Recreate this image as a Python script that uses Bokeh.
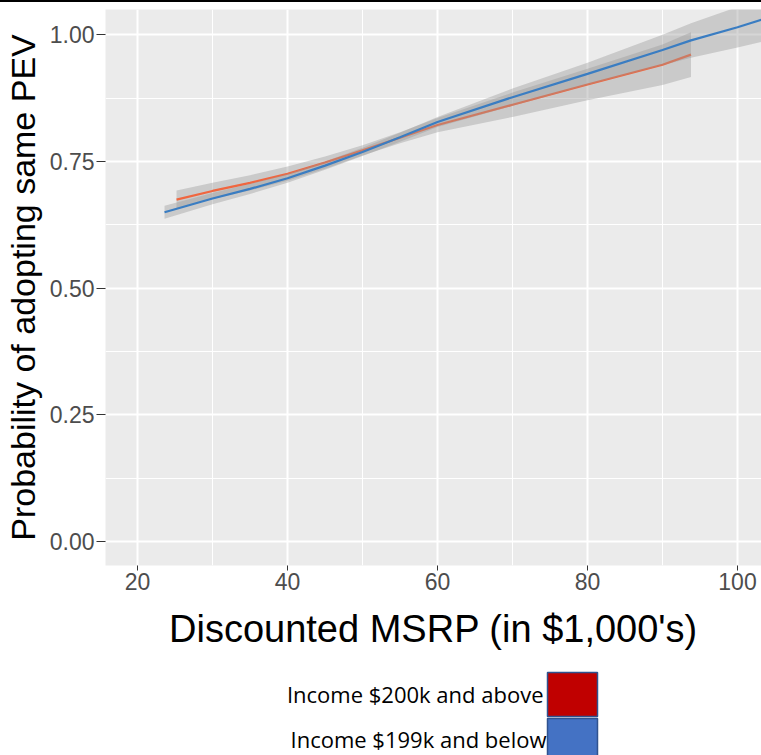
from bokeh.plotting import figure
from bokeh.layouts import column
from bokeh.models import Range1d, FixedTicker, Label, Div
from bokeh.embed import file_html
from bokeh.resources import INLINE

# ---------------- data ----------------
# Income $200k and above (red): fitted line and confidence band
hi_x = [25.2, 30, 35, 40, 45, 50, 55, 60, 70, 80, 90, 93.8]
hi_y = [0.675, 0.692, 0.708, 0.726, 0.748, 0.772, 0.797, 0.822, 0.862, 0.902, 0.941, 0.961]
hi_lo = [0.657, 0.676, 0.693, 0.712, 0.736, 0.762, 0.786, 0.808, 0.838, 0.871, 0.901, 0.917]
hi_up = [0.693, 0.708, 0.723, 0.740, 0.760, 0.782, 0.808, 0.836, 0.886, 0.933, 0.981, 1.005]

# Income $199k and below (blue): fitted line and confidence band
lo_x = [23.6, 30, 35, 40, 45, 50, 55, 60, 70, 80, 90, 93.8, 100, 103.2]
lo_y = [0.650, 0.677, 0.696, 0.717, 0.742, 0.769, 0.798, 0.828, 0.877, 0.923, 0.970, 0.989, 1.015, 1.030]
lo_lo = [0.637, 0.666, 0.686, 0.708, 0.734, 0.761, 0.789, 0.818, 0.860, 0.901, 0.940, 0.955, 0.975, 0.986]
lo_up = [0.663, 0.688, 0.706, 0.726, 0.750, 0.777, 0.807, 0.838, 0.894, 0.945, 1.000, 1.023, 1.055, 1.074]

x_ticks = [20, 40, 60, 80, 100]
x_minor = [30, 50, 70, 90]
y_ticks = [0.0, 0.25, 0.5, 0.75, 1.0]
y_minor = [0.125, 0.375, 0.625, 0.875]
y_tick_labels = ["0.00", "0.25", "0.50", "0.75", "1.00"]

legend_labels = ["Income $200k and above", "Income $199k and below"]
legend_colors = ["#C00000", "#4472C4"]

RED = "#F0663F"
BLUE = "#3A7DC2"
FONT = "Liberation Sans"

# thin black rule at the very top of the slide image
top_rule = Div(text="", width=761, height=2,
               styles={"background-color": "black"}, margin=0)

# ---------------- main plot ----------------
p = figure(width=761, height=663, output_backend="svg", toolbar_location=None,
           x_range=Range1d(15.73, 103.2), y_range=Range1d(-0.047, 1.05),
           min_border_left=105, min_border_right=0, min_border_top=7,
           min_border_bottom=100)
p.background_fill_color = "#EBEBEB"
p.border_fill_color = "white"
p.outline_line_color = None

p.xaxis.ticker = FixedTicker(ticks=x_ticks, minor_ticks=x_minor)
p.yaxis.ticker = FixedTicker(ticks=y_ticks, minor_ticks=y_minor)
p.yaxis.major_label_overrides = {t: s for t, s in zip(y_ticks, y_tick_labels)}

for g in (p.xgrid, p.ygrid):
    g.grid_line_color = "white"
    g.grid_line_width = 2
    g.minor_grid_line_color = "white"
    g.minor_grid_line_width = 1

for ax in (p.xaxis, p.yaxis):
    ax.axis_line_color = None
    ax.major_tick_line_color = "#333333"
    ax.major_tick_line_width = 1
    ax.major_tick_in = 0
    ax.minor_tick_line_color = None
    ax.major_label_text_font = FONT
    ax.major_label_text_font_size = "23px"
    ax.major_label_text_color = "#4D4D4D"
    ax.axis_label_text_font = FONT
    ax.axis_label_text_font_style = "normal"
    ax.axis_label_text_color = "black"

p.xaxis.major_tick_out = 5
p.xaxis.major_label_standoff = 2
p.yaxis.major_tick_out = 9
p.yaxis.major_label_standoff = 2

p.xaxis.axis_label = "Discounted MSRP (in $1,000's)"
p.xaxis.axis_label_text_font_size = "38px"
p.xaxis.axis_label_standoff = 15
p.yaxis.axis_label = "Probability of adopting same PEV"
p.yaxis.axis_label_text_font_size = "34px"
p.yaxis.axis_label_standoff = 5

# group 1 (high income): ribbon then line
p.varea(x=hi_x, y1=hi_lo, y2=hi_up, fill_color="#999999", fill_alpha=0.4)
p.line(hi_x, hi_y, line_color=RED, line_width=2.2)
# group 2 (low income): ribbon then line
p.varea(x=lo_x, y1=lo_lo, y2=lo_up, fill_color="#999999", fill_alpha=0.4)
p.line(lo_x, lo_y, line_color=BLUE, line_width=2.2)

# ---------------- legend strip (page-pixel coordinates) ----------------
lg = figure(width=761, height=90, output_backend="svg", toolbar_location=None,
            x_range=Range1d(105, 761), y_range=Range1d(755, 665),
            min_border_left=105, min_border_right=0, min_border_top=0,
            min_border_bottom=0)
lg.axis.visible = False
lg.grid.visible = False
lg.outline_line_color = None
lg.background_fill_color = "white"
lg.border_fill_color = "white"

sw_left, sw_right = 547, 597
sw_tops = [672, 718]
sw_bottoms = [716, 765]
label_y = [693, 738]
label_right = [543, 546]
lg.quad(left=[sw_left] * 2, right=[sw_right] * 2, top=sw_tops, bottom=sw_bottoms,
        fill_color=legend_colors, line_color="#2F528F", line_width=1.5)
for txt, yy, xr in zip(legend_labels, label_y, label_right):
    lg.add_layout(Label(x=xr, y=yy, text=txt, text_align="right",
                        text_baseline="middle", text_font="Open Sans",
                        text_font_size="22px", text_color="black"))

layout = column(top_rule, p, lg, spacing=0)
open("out.html", "w").write(file_html(layout, INLINE))
